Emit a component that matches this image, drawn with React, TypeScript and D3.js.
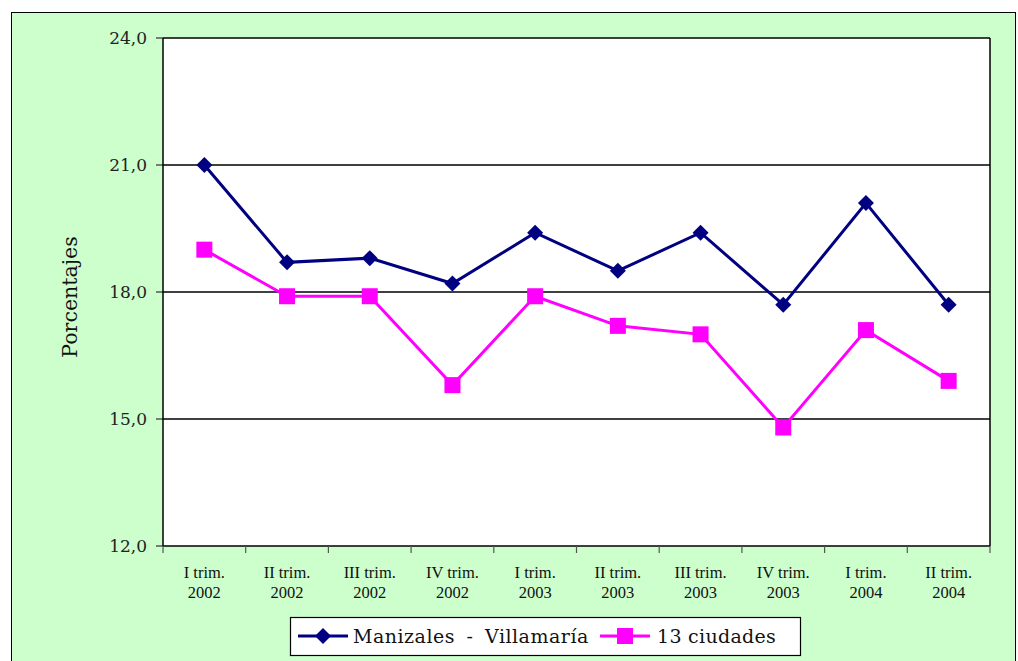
import React from "react";
import * as d3 from "d3";

const categories = [
  ["I trim.", "2002"], ["II trim.", "2002"], ["III trim.", "2002"], ["IV trim.", "2002"],
  ["I trim.", "2003"], ["II trim.", "2003"], ["III trim.", "2003"], ["IV trim.", "2003"],
  ["I trim.", "2004"], ["II trim.", "2004"],
];
const manizales = [21.0, 18.7, 18.8, 18.2, 19.4, 18.5, 19.4, 17.7, 20.1, 17.7];
const ciudades = [19.0, 17.9, 17.9, 15.8, 17.9, 17.2, 17.0, 14.8, 17.1, 15.9];
const yTicks = [12, 15, 18, 21, 24];
const seriesNames = ["Manizales - Villamaría", "13 ciudades"];

export default function App() {
  const W = 1018, H = 661;
  const left = 163, right = 990, top = 38, bottom = 546;
  const x = d3.scaleBand<number>().domain(d3.range(categories.length)).range([left, right]);
  const y = d3.scaleLinear().domain([12, 24]).range([bottom, top]);
  const cx = (i: number) => (x(i) as number) + x.bandwidth() / 2;
  const line = d3.line<number>().x((_, i) => cx(i)).y((v) => y(v));
  const navy = "#000080", mag = "#FF00FF";
  const diamond = (px: number, py: number, r = 8) =>
    `M${px},${py - r}L${px + r},${py}L${px},${py + r}L${px - r},${py}Z`;
  const fmt = (v: number) => v.toFixed(1).replace(".", ",");
  return (
    <svg width={W} height={H} style={{ position: "absolute", left: 0, top: 0 }}>
      <rect x={0} y={0} width={W} height={H} fill="white" />
      <rect x={11.5} y={12.5} width={1004} height={700} fill="#CCFFCC" stroke="black" strokeWidth={1} />
      <rect x={left} y={top} width={right - left} height={bottom - top} fill="white" />
      {yTicks.map((t) => (
        <g key={t}>
          <line x1={left} x2={right} y1={y(t)} y2={y(t)} stroke="black" strokeWidth={1.5} />
          <line x1={left - 7} x2={left} y1={y(t)} y2={y(t)} stroke="#555" strokeWidth={1.5} />
          <text x={left - 16} y={y(t) + 6} textAnchor="end" fontFamily="DejaVu Serif" fontSize={17} fill="#222">
            {fmt(t)}
          </text>
        </g>
      ))}
      <line x1={left} x2={left} y1={top} y2={bottom} stroke="black" strokeWidth={1.5} />
      <line x1={right} x2={right} y1={top} y2={bottom} stroke="black" strokeWidth={1.5} />
      {d3.range(categories.length + 1).map((i) => {
        const px = left + i * x.bandwidth();
        return <line key={i} x1={px} x2={px} y1={bottom} y2={bottom + 7} stroke="#555" strokeWidth={1.2} />;
      })}
      {categories.map((c, i) => (
        <text key={i} x={cx(i)} textAnchor="middle" fontFamily="Liberation Serif" fontSize={16.5} fill="#111">
          <tspan x={cx(i)} y={578}>{c[0]}</tspan>
          <tspan x={cx(i)} y={598}>{c[1]}</tspan>
        </text>
      ))}
      <text transform={`translate(77,297) rotate(-90)`} textAnchor="middle" fontFamily="DejaVu Serif" fontSize={20.5} fill="#111">
        Porcentajes
      </text>
      <path d={line(manizales) || ""} fill="none" stroke={navy} strokeWidth={3} />
      {manizales.map((v, i) => (
        <path key={i} d={diamond(cx(i), y(v))} fill={navy} />
      ))}
      <path d={line(ciudades) || ""} fill="none" stroke={mag} strokeWidth={3} />
      {ciudades.map((v, i) => (
        <rect key={i} x={cx(i) - 8} y={y(v) - 8} width={16} height={16} fill={mag} />
      ))}
      <g>
        <rect x={290.5} y={617.5} width={510} height={38} fill="white" stroke="black" strokeWidth={1.2} />
        <line x1={298} x2={348} y1={636} y2={636} stroke={navy} strokeWidth={3} />
        <path d={diamond(323, 636, 8)} fill={navy} />
        <text x={353} y={643} fontFamily="DejaVu Serif" fontSize={19} letterSpacing={0.5} wordSpacing={5} fill="#111">{seriesNames[0]}</text>
        <line x1={600} x2={650} y1={636} y2={636} stroke={mag} strokeWidth={3} />
        <rect x={617} y={628} width={16} height={16} fill={mag} />
        <text x={657} y={643} fontFamily="DejaVu Serif" fontSize={19} letterSpacing={0.3} fill="#111">{seriesNames[1]}</text>
      </g>
    </svg>
  );
}
